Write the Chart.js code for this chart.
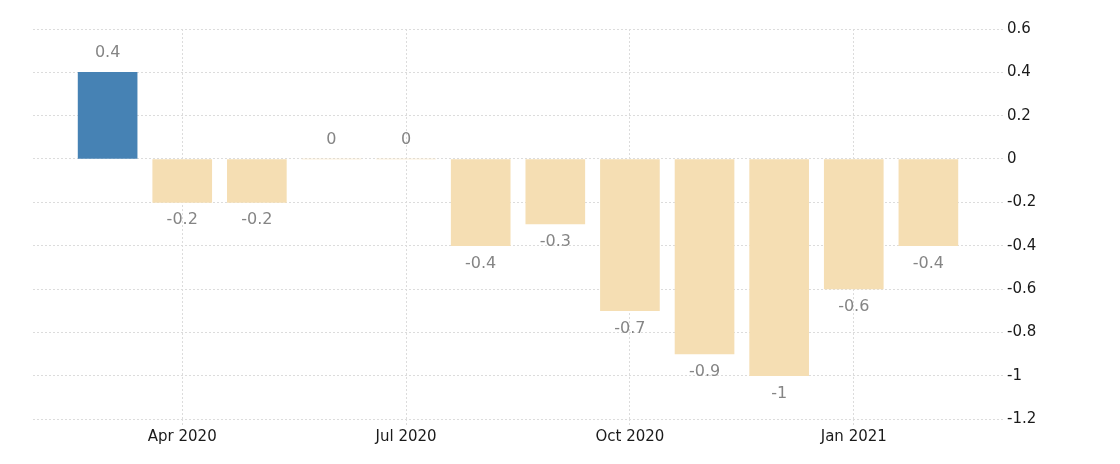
<!DOCTYPE html>
<html>
<head>
<meta charset="utf-8">
<script src="https://cdn.jsdelivr.net/npm/chart.js@4"></script>
<style>
  html, body { margin: 0; padding: 0; background: #fff; }
  #wrap { width: 1120px; height: 464px; }
</style>
</head>
<body>
<div id="wrap"><canvas id="chart"></canvas></div>
<script>
const months = [
  "Mar 2020", "Apr 2020", "May 2020", "Jun 2020", "Jul 2020", "Aug 2020",
  "Sep 2020", "Oct 2020", "Nov 2020", "Dec 2020", "Jan 2021", "Feb 2021",
]
const values = [0.4, -0.2, -0.2, 0, 0, -0.4, -0.3, -0.7, -0.9, -1, -0.6, -0.4]
const xTickMonths = ["Apr 2020", "Jul 2020", "Oct 2020", "Jan 2021"]
const yMin = -1.2
const yMax = 0.6
const yStep = 0.2

const gridColor = "#dcdcdc"
const fontFamily = "'DejaVu Sans', sans-serif"

const barLabelPlugin = {
  id: "barLabels",
  afterDatasetsDraw(chart) {
    const { ctx } = chart
    const meta = chart.getDatasetMeta(0)
    ctx.save()
    ctx.font = "16px " + fontFamily
    ctx.fillStyle = "#858585"
    ctx.textAlign = "center"
    ctx.textBaseline = "middle"
    meta.data.forEach((bar, i) => {
      const v = values[i]
      const y = v < 0 ? bar.y + 18 : bar.y - 19
      ctx.fillText(String(v), bar.x, y)
    })
    ctx.restore()
  },
}

const ctx = document.getElementById("chart").getContext("2d")

new Chart(ctx, {
  type: "bar",
  data: {
    datasets: [
      {
        data: values.map((v, i) => ({ x: i, y: v })),
        backgroundColor: values.map((v) => (v > 0 ? "#4682B4" : "#F5DEB3")),
        borderWidth: 0,
        barThickness: 59,
      },
    ],
  },
  options: {
    responsive: true,
    maintainAspectRatio: false,
    animation: false,
    layout: {
      padding: { left: 33, top: 29, right: 0, bottom: 15 },
    },
    plugins: {
      legend: { display: false },
      tooltip: { enabled: false },
    },
    scales: {
      x: {
        type: "linear",
        offset: false,
        min: -1,
        max: months.length,
        afterBuildTicks(scale) {
          scale.ticks = xTickMonths.map((m) => ({ value: months.indexOf(m) }))
        },
        ticks: {
          autoSkip: false,
          maxRotation: 0,
          padding: 3,
          color: "#1a1a1a",
          font: { family: fontFamily, size: 15 },
          callback: (value) => months[value],
        },
        grid: {
          offset: false,
          color: gridColor,
          tickColor: gridColor,
          tickLength: 6,
          tickBorderDash: [2, 2],
        },
        border: { display: false, dash: [2, 2] },
      },
      y: {
        position: "right",
        min: yMin,
        max: yMax,
        afterFit(scale) {
          scale.width = 117
        },
        ticks: {
          stepSize: yStep,
          padding: 4,
          color: "#1a1a1a",
          font: { family: fontFamily, size: 15 },
          callback: (value) => String(Math.round(value * 10) / 10),
        },
        grid: {
          color: gridColor,
          drawTicks: false,
        },
        border: { display: false, dash: [2, 2] },
      },
    },
  },
  plugins: [barLabelPlugin],
})
</script>
</body>
</html>
